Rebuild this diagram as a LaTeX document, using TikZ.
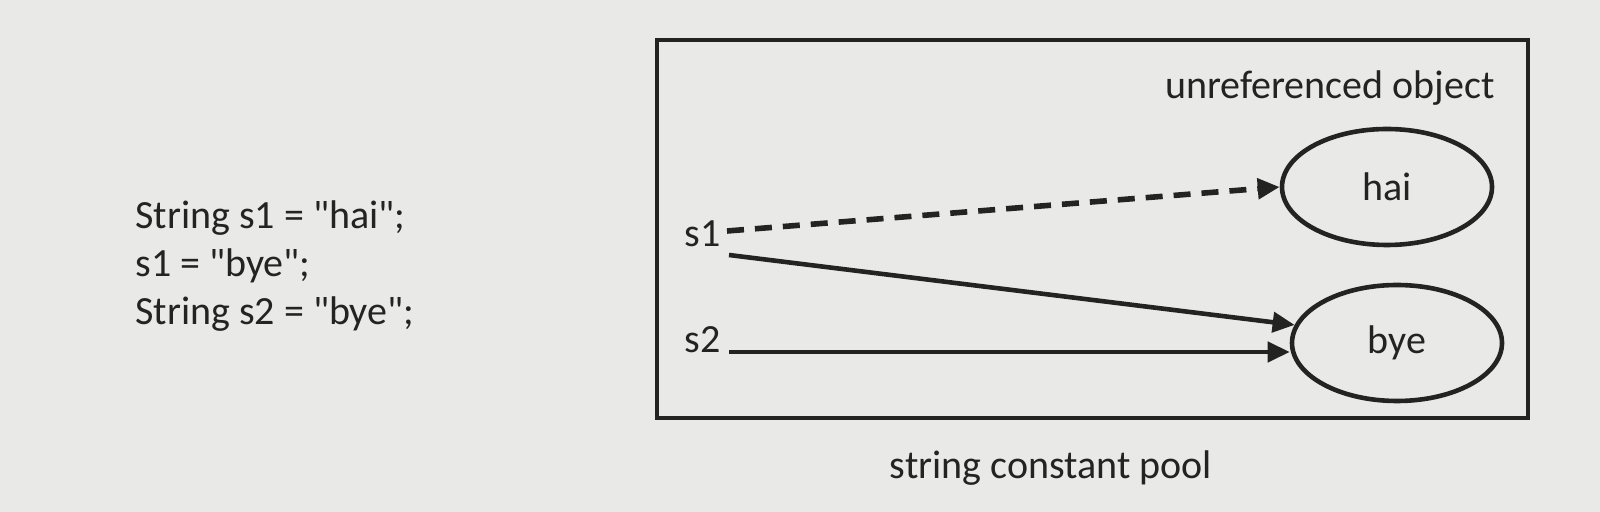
\documentclass[tikz,border=0pt]{standalone}
\usepackage{fontspec}
\setmainfont{Carlito}[Ligatures=TeXOff]
\usetikzlibrary{shapes.geometric,arrows.meta}
\definecolor{bg}{RGB}{233,233,231}
\definecolor{ink}{RGB}{35,35,35}
\begin{document}
\begin{tikzpicture}[x=0.5pt,y=-0.5pt,
  txt/.style={font=\fontsize{20}{24}\selectfont, text=ink, inner sep=0pt},
  obj/.style={draw=ink, line width=2.3pt, ellipse, minimum width=105pt, minimum height=58pt, inner sep=0pt, font=\fontsize{20}{24}\selectfont, text=ink},
  ref/.style={draw=ink, line width=2.3pt, -{Triangle[length=11pt,width=10pt]}},
  dashref/.style={ref, line width=2.8pt, dash pattern=on 8.5pt off 5.5pt}]
\fill[bg] (0,0) rectangle (1600,512);
\useasboundingbox (0,0) rectangle (1600,512);
\node[txt, anchor=west] (c1) at (135,218) {String s1 = "hai";};
\node[txt, anchor=west] (c2) at (135,266) {s1 = "bye";};
\node[txt, anchor=west] (c3) at (135,314) {String s2 = "bye";};
\node[draw=ink, line width=2.3pt, inner sep=0pt, minimum width=435.5pt, minimum height=189pt] (pool) at (1092.5,229) {};
\node[txt, anchor=east] (unref) at (1495,88) {unreferenced object};
\node[txt] (caption) at (1051,468) {string constant pool};
\node[obj] (hai) at (1387,187) {hai};
\node[obj] (bye) at (1397,343) {bye};
\node[txt, anchor=east] (s1) at (721,234) {s1};
\node[txt, anchor=east] (s2) at (721,340) {s2};
\coordinate (s1a) at (727,231);
\coordinate (s1b) at (729,255);
\coordinate (s2a) at (729,352);
\draw[dashref] (s1a) -- (hai.west);
\draw[ref] (s1b) -- (bye.170);
\draw[ref] (s2a) -- (s2a -| bye.west);
\end{tikzpicture}
\end{document}
